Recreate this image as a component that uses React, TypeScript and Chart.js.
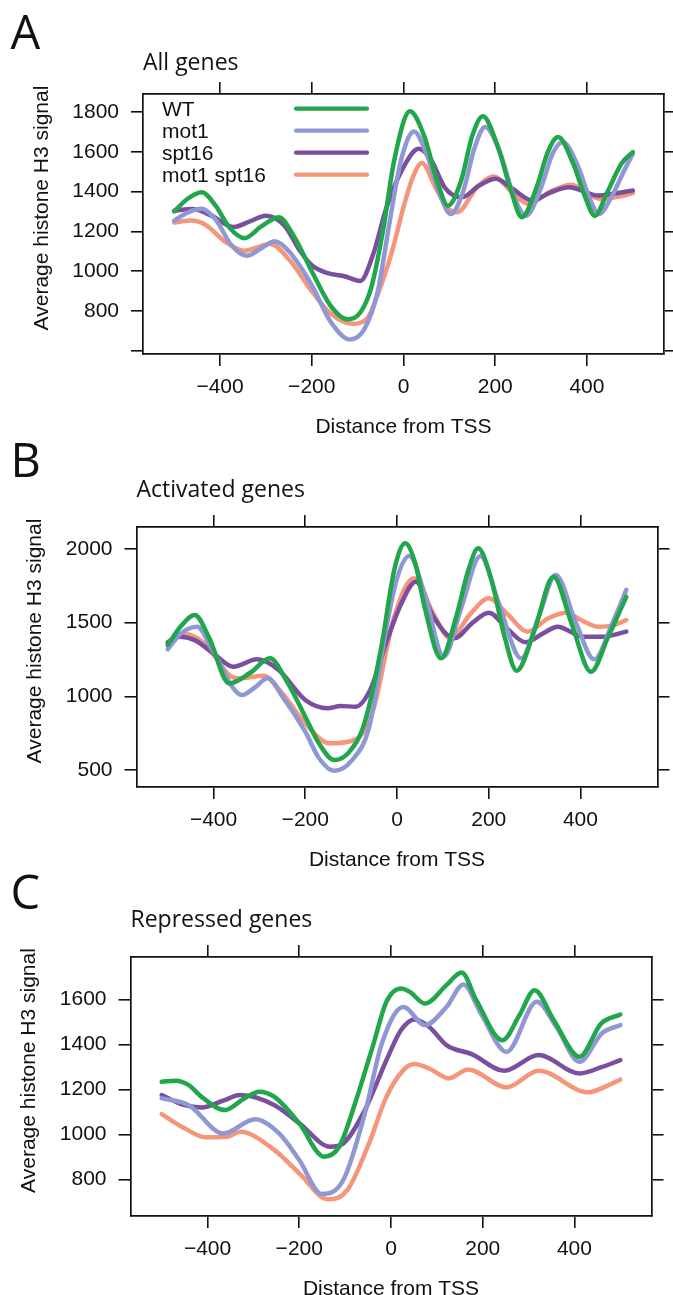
import React, { useEffect, useRef } from 'react';
import { Chart, registerables } from 'chart.js';

Chart.register(...registerables);

type Pt = [number, number];

const SERIES_LABELS = ['WT', 'mot1', 'spt16', 'mot1 spt16'];
const SERIES_COLORS = ['#22a64b', '#8f98d4', '#7a4f9f', '#f5957a'];

const X_TICKS = [-400, -200, 0, 200, 400];
const X_MIN = -568;
const X_MAX = 568;

// Panel A: All genes
const ALL_Y_TICKS = [600, 800, 1000, 1200, 1400, 1600, 1800];
const ALL_Y_UNLABELED = [600];
const allWT: Pt[] = [[-500,1300],[-470,1365],[-440,1397],[-410,1330],[-380,1220],[-347,1166],[-310,1225],[-272,1271],[-240,1180],[-200,1000],[-160,830],[-122,758],[-95,790],[-70,920],[-45,1200],[-20,1560],[14,1803],[45,1680],[75,1440],[97,1329],[125,1450],[150,1680],[173,1778],[205,1630],[235,1400],[258,1271],[290,1420],[315,1600],[337,1674],[370,1540],[395,1380],[417,1279],[445,1400],[475,1540],[500,1598]];
const allMot1: Pt[] = [[-500,1254],[-470,1295],[-440,1313],[-410,1260],[-375,1130],[-342,1077],[-310,1115],[-281,1150],[-250,1100],[-200,930],[-160,750],[-117,657],[-85,710],[-56,900],[-30,1250],[-5,1560],[23,1702],[50,1590],[80,1380],[103,1287],[130,1400],[155,1620],[178,1724],[210,1600],[240,1380],[267,1279],[300,1420],[325,1590],[347,1649],[380,1530],[405,1370],[426,1287],[455,1380],[480,1500],[500,1590]];
const allSpt16: Pt[] = [[-500,1304],[-460,1312],[-420,1280],[-370,1222],[-335,1250],[-300,1279],[-260,1230],[-225,1100],[-200,1030],[-165,990],[-131,976],[-94,951],[-66,1086],[-37,1321],[0,1523],[33,1615],[60,1560],[90,1420],[127,1371],[165,1430],[201,1464],[240,1410],[281,1355],[320,1395],[361,1422],[395,1400],[422,1380],[460,1390],[500,1405]];
const allDouble: Pt[] = [[-500,1245],[-463,1254],[-430,1230],[-390,1150],[-347,1103],[-290,1136],[-250,1060],[-200,900],[-160,790],[-112,736],[-80,760],[-56,884],[-25,1100],[0,1321],[20,1470],[40,1543],[70,1420],[95,1320],[117,1296],[160,1420],[197,1476],[235,1400],[272,1338],[320,1400],[366,1434],[400,1390],[431,1363],[470,1375],[500,1392]];

// Panel B: Activated genes
const ACT_Y_TICKS = [500, 1000, 1500, 2000];
const actWT: Pt[] = [[-500,1348],[-470,1480],[-441,1552],[-410,1400],[-366,1088],[-320,1160],[-277,1258],[-240,1100],[-200,862],[-170,680],[-137,568],[-105,620],[-71,817],[-34,1337],[-6,1857],[18,2038],[40,1900],[60,1609],[96,1258],[130,1550],[155,1850],[177,2004],[205,1800],[235,1400],[261,1174],[300,1450],[341,1812],[380,1500],[423,1167],[460,1400],[500,1676]];
const actMot1: Pt[] = [[-500,1319],[-470,1430],[-436,1473],[-400,1300],[-338,1009],[-310,1060],[-282,1122],[-250,1000],[-200,760],[-170,580],[-137,495],[-100,560],[-60,800],[-24,1450],[0,1800],[27,1952],[60,1700],[102,1269],[140,1600],[182,1952],[220,1650],[271,1258],[310,1550],[346,1824],[390,1500],[430,1251],[470,1500],[500,1722]];
const actSpt16: Pt[] = [[-500,1367],[-475,1405],[-440,1380],[-400,1290],[-357,1201],[-305,1251],[-258,1179],[-200,975],[-151,919],[-123,934],[-90,930],[-57,1054],[-24,1360],[8,1620],[41,1778],[79,1541],[125,1394],[165,1500],[200,1568],[240,1460],[280,1367],[320,1430],[350,1473],[406,1405],[450,1405],[500,1439]];
const actDouble: Pt[] = [[-500,1360],[-464,1423],[-420,1360],[-366,1145],[-343,1122],[-291,1140],[-250,1020],[-200,817],[-146,681],[-90,708],[-52,907],[-6,1541],[37,1801],[79,1563],[116,1394],[160,1560],[200,1665],[240,1560],[285,1439],[330,1530],[369,1568],[400,1520],[439,1473],[470,1480],[500,1518]];

// Panel C: Repressed genes
const REP_Y_TICKS = [800, 1000, 1200, 1400, 1600];
const repWT: Pt[] = [[-500,1234],[-469,1239],[-441,1219],[-413,1167],[-362,1108],[-320,1160],[-287,1190],[-254,1167],[-200,1049],[-146,901],[-113,945],[-76,1153],[-38,1404],[-10,1590],[22,1649],[41,1634],[74,1582],[121,1664],[154,1720],[186,1597],[243,1419],[280,1530],[313,1641],[355,1508],[411,1345],[458,1493],[500,1533]];
const repMot1: Pt[] = [[-500,1160],[-441,1130],[-366,1004],[-296,1067],[-244,1004],[-200,886],[-151,735],[-104,797],[-57,1093],[-20,1404],[27,1567],[74,1486],[121,1567],[158,1667],[196,1538],[252,1367],[318,1590],[360,1480],[411,1323],[460,1450],[500,1486]];
const repSpt16: Pt[] = [[-500,1175],[-450,1130],[-413,1120],[-366,1150],[-329,1175],[-254,1130],[-200,1049],[-132,945],[-104,960],[-57,1108],[-10,1330],[22,1464],[51,1511],[83,1479],[121,1397],[177,1356],[247,1283],[322,1353],[411,1271],[460,1300],[500,1330]];
const repDouble: Pt[] = [[-500,1090],[-450,1027],[-404,987],[-357,990],[-329,1012],[-254,930],[-200,827],[-137,711],[-95,753],[-48,960],[-10,1167],[27,1286],[51,1313],[83,1293],[126,1249],[168,1289],[252,1209],[322,1283],[430,1187],[470,1215],[500,1244]];

interface PanelCfg {
  letter: string;
  title: string;
  top: number;
  height: number;
  area: { left: number; right: number; top: number; bottom: number };
  yMin: number;
  yMax: number;
  yTicks: number[];
  yUnlabeled: number[];
  series: Pt[][];
  legend: boolean;
  letterBaseline: number;
  titleBaseline: number;
}

const PANELS: PanelCfg[] = [
  {
    letter: 'A', title: 'All genes', top: 0, height: 440,
    area: { left: 143, right: 664, top: 94, bottom: 354 },
    yMin: 584, yMax: 1890, yTicks: ALL_Y_TICKS, yUnlabeled: ALL_Y_UNLABELED,
    series: [allWT, allMot1, allSpt16, allDouble], legend: true,
    letterBaseline: 49, titleBaseline: 69.5,
  },
  {
    letter: 'B', title: 'Activated genes', top: 430, height: 440,
    area: { left: 136.5, right: 657.5, top: 97, bottom: 357 },
    yMin: 385, yMax: 2149, yTicks: ACT_Y_TICKS, yUnlabeled: [],
    series: [actWT, actMot1, actSpt16, actDouble], legend: false,
    letterBaseline: 47, titleBaseline: 66.7,
  },
  {
    letter: 'C', title: 'Repressed genes', top: 860, height: 435,
    area: { left: 130.5, right: 651.5, top: 97, bottom: 356 },
    yMin: 637, yMax: 1789, yTicks: REP_Y_TICKS, yUnlabeled: [],
    series: [repWT, repMot1, repSpt16, repDouble], legend: false,
    letterBaseline: 48.5, titleBaseline: 66.7,
  },
];

const W = 673;
const TICK_FONT = { family: '"Liberation Sans", Arial, sans-serif', size: 21 };
const LABEL_FONT = '21px "Liberation Sans", Arial, sans-serif';
const TITLE_FONT = '23px "Open Sans", sans-serif';
const LETTER_FONT = '47px "Open Sans", sans-serif';

const fmtTick = (v: number) => (v < 0 ? '\u2212' + Math.abs(v) : String(v));

function buildChart(canvas: HTMLCanvasElement, p: PanelCfg): Chart {
  const axisCommon = {
    grid: { drawOnChartArea: false, drawTicks: true, tickLength: 12, color: '#111', lineWidth: 1.6 },
    border: { display: true, color: '#111', width: 1.7 },
  };
  const textPlugin = {
    id: 'panelText' + p.letter,
    afterDraw(chart: any) {
      const ctx: CanvasRenderingContext2D = chart.ctx;
      const a = chart.chartArea;
      ctx.save();
      ctx.fillStyle = '#111';
      ctx.textBaseline = 'alphabetic';
      ctx.textAlign = 'left';
      ctx.font = LETTER_FONT;
      ctx.fillText(p.letter, 10.5, p.letterBaseline);
      ctx.font = TITLE_FONT;
      ctx.fillText(p.title, a.left, p.titleBaseline);
      ctx.font = LABEL_FONT;
      ctx.textAlign = 'center';
      ctx.fillText('Distance from TSS', (a.left + a.right) / 2, a.bottom + 79);
      ctx.save();
      ctx.translate(a.left - 95.3, (a.top + a.bottom) / 2 - 16);
      ctx.rotate(-Math.PI / 2);
      ctx.fillText('Average histone H3 signal', 0, 0);
      ctx.restore();
      if (p.legend) {
        const ds = chart.data.datasets;
        ctx.textAlign = 'left';
        ctx.font = LABEL_FONT;
        ds.forEach((d: any, i: number) => {
          ctx.fillStyle = '#111';
          ctx.fillText(d.label, a.left + 19, a.top + 21.7 + i * 22);
          ctx.strokeStyle = d.borderColor;
          ctx.lineWidth = 4.2;
          ctx.lineCap = 'round';
          ctx.beginPath();
          ctx.moveTo(a.left + 153, a.top + 14.7 + i * 22);
          ctx.lineTo(a.left + 224, a.top + 14.7 + i * 22);
          ctx.stroke();
        });
      }
      ctx.restore();
    },
  };

  return new Chart(canvas, {
    type: 'line',
    data: {
      datasets: p.series.map((s, i) => ({
        label: SERIES_LABELS[i],
        data: s.map(([x, y]) => ({ x, y })),
        borderColor: SERIES_COLORS[i],
        backgroundColor: SERIES_COLORS[i],
        xAxisID: 'x',
        yAxisID: 'y',
      })),
    },
    options: {
      responsive: false,
      animation: false,
      devicePixelRatio: 1,
      layout: { padding: 0 },
      elements: {
        point: { radius: 0, hoverRadius: 0 },
        line: { borderWidth: 4.5, cubicInterpolationMode: 'monotone', borderCapStyle: 'round', borderJoinStyle: 'round', fill: false },
      },
      plugins: { legend: { display: false }, tooltip: { enabled: false }, title: { display: false } },
      events: [],
      scales: {
        x: {
          type: 'linear', position: 'bottom', min: X_MIN, max: X_MAX,
          afterBuildTicks: (s: any) => { s.ticks = X_TICKS.map((v) => ({ value: v })); },
          ticks: { callback: (v: any) => fmtTick(Number(v)), font: TICK_FONT, color: '#111', padding: 9, maxRotation: 0, autoSkip: false },
          afterFit: (s: any) => { s.height = p.height - p.area.bottom; },
          ...axisCommon,
        },
        x2: {
          type: 'linear', position: 'top', min: X_MIN, max: X_MAX,
          afterBuildTicks: (s: any) => { s.ticks = X_TICKS.map((v) => ({ value: v })); },
          ticks: { display: false },
          afterFit: (s: any) => { s.height = p.area.top; },
          ...axisCommon,
        },
        y: {
          type: 'linear', position: 'left', min: p.yMin, max: p.yMax,
          afterBuildTicks: (s: any) => { s.ticks = p.yTicks.map((v) => ({ value: v })); },
          ticks: { callback: (v: any) => (p.yUnlabeled.includes(Number(v)) ? '' : String(v)), font: TICK_FONT, color: '#111', padding: 12, autoSkip: false },
          afterFit: (s: any) => { s.width = p.area.left; },
          ...axisCommon,
        },
        y2: {
          type: 'linear', position: 'right', min: p.yMin, max: p.yMax,
          afterBuildTicks: (s: any) => { s.ticks = p.yTicks.map((v) => ({ value: v })); },
          ticks: { display: false },
          afterFit: (s: any) => { s.width = W - p.area.right; },
          ...axisCommon,
        },
      },
    } as any,
    plugins: [textPlugin],
  });
}

function Panel({ cfg }: { cfg: PanelCfg }) {
  const ref = useRef<HTMLCanvasElement | null>(null);
  useEffect(() => {
    if (!ref.current) return;
    const chart = buildChart(ref.current, cfg);
    return () => chart.destroy();
  }, [cfg]);
  return (
    <canvas
      ref={ref}
      width={W}
      height={cfg.height}
      style={{ position: 'absolute', left: 0, top: cfg.top, width: W, height: cfg.height }}
    />
  );
}

export default function App() {
  return (
    <div style={{ position: 'absolute', left: 0, top: 0, width: W, height: 1295, overflow: 'hidden', background: '#fff' }}>
      {PANELS.map((p) => (
        <Panel key={p.letter} cfg={p} />
      ))}
    </div>
  );
}
